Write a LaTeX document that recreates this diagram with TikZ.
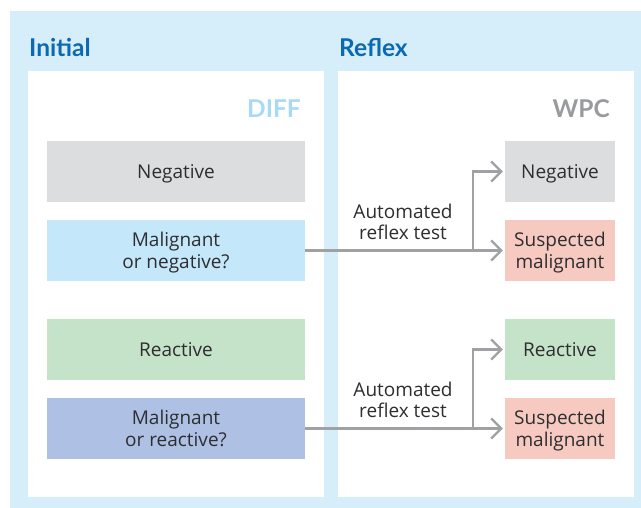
\documentclass[tikz,border=0pt]{standalone}
\usepackage{fontspec}
\setmainfont{Open Sans}
\setsansfont{Open Sans}
\newfontfamily\headfont{Lato}
\usetikzlibrary{arrows.meta, positioning, calc}

\definecolor{ink}{HTML}{2E2E30}
\definecolor{sky}{HTML}{D6EEFA}
\definecolor{title}{HTML}{0B69B3}
\definecolor{diffblue}{HTML}{A7DAF6}
\definecolor{wpcgrey}{HTML}{9A9B9E}
\definecolor{wire}{HTML}{9FA1A4}
\definecolor{negfill}{HTML}{DCDDDF}
\definecolor{malfill}{HTML}{C4E7FA}
\definecolor{reafill}{HTML}{C5E3C8}
\definecolor{mrfill}{HTML}{AEC1E4}
\definecolor{suspfill}{HTML}{F6CAC1}

\tikzset{
  font=\fontsize{19}{22.5}\selectfont,
  %
  cell/.style={draw=none, inner sep=0pt, align=center, text=ink,
               text depth=-3.5pt, minimum height=61pt},
  diffcell/.style={cell, minimum width=258pt},
  wpccell/.style={cell, minimum width=110pt},
  %
  head/.style={font=\headfont\bfseries\fontsize{24.5}{28}\selectfont, inner sep=0pt},
  link/.style={draw=wire, line width=2.2pt,
               -{Straight Barb[length=10pt, width=20pt]}, shorten >=2pt},
  lbl/.style={font=\fontsize{19}{21.5}\selectfont, text=ink, align=center,
              inner sep=0pt, text depth=0pt},
}

\begin{document}
\begin{tikzpicture}[x=1pt, y=-1pt]
  \useasboundingbox (0,0) rectangle (641,508);

  % backdrop and the two columns
  \fill[sky] (10,11) rectangle (641,508);
  \fill[white] (28,71) rectangle (324,497);
  \fill[white] (338,71) rectangle (634,497);

  \node[head, text=title, anchor=base west] (initial) at (29,56.7) {Initial};
  \node[head, text=title, anchor=base west] (reflex) at (339,56.7) {Reflex};
  \node[head, text=diffblue, anchor=base east] (diff) at (301,118) {DIFF};
  \node[head, text=wpcgrey, anchor=base east] (wpc) at (610,118) {WPC};

  % DIFF results
  \foreach \name/\y/\fillc/\txt in {dneg/171.5/negfill/{Negative},
                                    dmneg/250.5/malfill/{Malignant\\or negative?},
                                    dreact/349.5/reafill/{Reactive},
                                    dmreact/428.5/mrfill/{Malignant\\or reactive?}} {
    \node[diffcell, fill=\fillc] (\name) at (176,\y) {\txt};
  }

  % WPC results
  \foreach \name/\y/\fillc/\txt in {wneg/171.5/negfill/{Negative},
                                    wsusp/250.5/suspfill/{Suspected\\malignant},
                                    wreact/349.5/reafill/{Reactive},
                                    wsuspb/428.5/suspfill/{Suspected\\malignant}} {
    \node[wpccell, fill=\fillc] (\name) at (560,\y) {\txt};
  }

  % reflex branches
  \foreach \src/\low/\high in {dmneg/wsusp/wneg, dmreact/wsuspb/wreact} {
    \coordinate (split-\src) at ([xshift=-32pt]\low.west);
    \draw[link] (\src.east) -- (\low.west);
    \draw[link] (split-\src) |- (\high.west);
    \node[lbl, anchor=south east] (lbl-\src) at ([xshift=-20pt, yshift=10.5pt]split-\src)
      {Automated\\reflex test};
  }

\end{tikzpicture}
\end{document}
